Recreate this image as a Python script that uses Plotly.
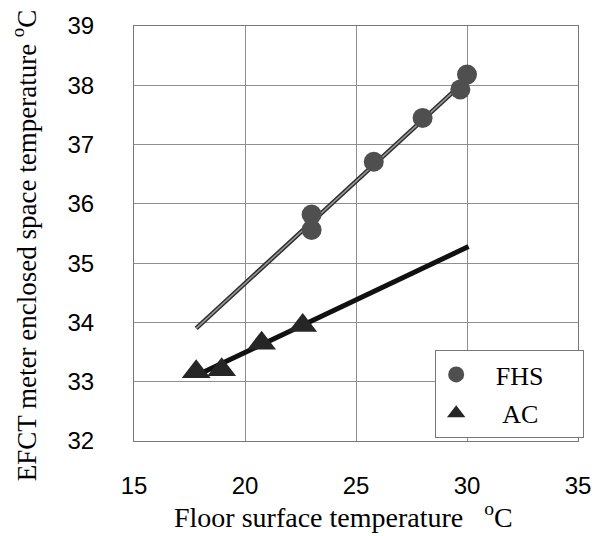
import plotly.graph_objects as go

# Data
fhs_x = [23.0, 23.0, 25.8, 28.0, 29.7, 30.0]
fhs_y = [35.56, 35.82, 36.71, 37.45, 37.93, 38.18]
ac_x = [17.8, 18.95, 20.75, 22.6]
ac_y = [33.17, 33.2, 33.65, 33.95]
fhs_fit_x = [17.8, 30.05]
fhs_fit_y = [33.9, 38.12]
ac_fit_x = [17.95, 30.07]
ac_fit_y = [33.13, 35.28]

x_ticks = [15, 20, 25, 30, 35]
y_ticks = [32, 33, 34, 35, 36, 37, 38, 39]

NB = "\u00a0"

fig = go.Figure()

# regression lines
fig.add_trace(go.Scatter(x=fhs_fit_x, y=fhs_fit_y, mode="lines",
                         line=dict(color="#2e2e2e", width=4.5), showlegend=False, hoverinfo="skip"))
fig.add_trace(go.Scatter(x=fhs_fit_x, y=fhs_fit_y, mode="lines",
                         line=dict(color="#9a9a9a", width=1.5), showlegend=False, hoverinfo="skip"))
fig.add_trace(go.Scatter(x=ac_fit_x, y=ac_fit_y, mode="lines",
                         line=dict(color="#111111", width=5), showlegend=False, hoverinfo="skip"))

# markers
fig.add_trace(go.Scatter(x=fhs_x, y=fhs_y, mode="markers", name=NB * 3 + "FHS" + NB * 3,
                         legendgroup="a",
                         marker=dict(symbol="circle", size=20, color="#4f4f4f",
                                     line=dict(width=0))))
fig.add_trace(go.Scatter(x=ac_x, y=ac_y, mode="markers", name=NB * 4 + "AC" + NB * 6,
                         legendgroup="b",
                         marker=dict(symbol="triangle-up", size=25, color="#262626",
                                     line=dict(width=0))))

grid = "#8f8f8f"
fig.update_layout(
    width=603, height=536,
    margin=dict(l=134, r=12, t=26, b=95),
    paper_bgcolor="white", plot_bgcolor="white",
    showlegend=True,
    legend=dict(x=(444 - 134) / 457, y=(441 - 350) / 415, xanchor="left", yanchor="top",
                bgcolor="white", bordercolor="#777777", borderwidth=1,
                font=dict(family="Liberation Serif", size=26, color="black"),
                tracegroupgap=2, itemwidth=30),
    xaxis=dict(range=[15, 35], tickvals=x_ticks, ticktext=[str(v) for v in x_ticks],
               showgrid=True, gridcolor=grid, gridwidth=1, zeroline=False,
               showline=True, linecolor="#777777", linewidth=1, mirror=True,
               ticks="", ticklabelstandoff=23,
               tickfont=dict(family="Liberation Sans", size=24, color="black")),
    yaxis=dict(range=[32, 39], tickvals=y_ticks, ticktext=[str(v) for v in y_ticks],
               showgrid=True, gridcolor=grid, gridwidth=1, zeroline=False,
               showline=True, linecolor="#777777", linewidth=1, mirror=True,
               ticks="", ticklabelstandoff=34,
               tickfont=dict(family="Liberation Sans", size=24, color="black")),
    annotations=[
        dict(text="EFCT meter enclosed space temperature <sup>o</sup>C",
             textangle=-90, xref="paper", yref="paper",
             x=(21 - 134) / 457, y=(441 - 245) / 415,
             xanchor="center", yanchor="middle", showarrow=False,
             font=dict(family="Liberation Serif", size=27, color="black")),
        dict(text="Floor surface temperature" + NB * 3 + "<sup>o</sup>C",
             xref="paper", yref="paper",
             x=(350 - 134) / 457, y=(441 - 515) / 415,
             xanchor="center", yanchor="middle", showarrow=False,
             font=dict(family="Liberation Serif", size=28, color="black")),
    ],
)

fig.write_html("out.html")
